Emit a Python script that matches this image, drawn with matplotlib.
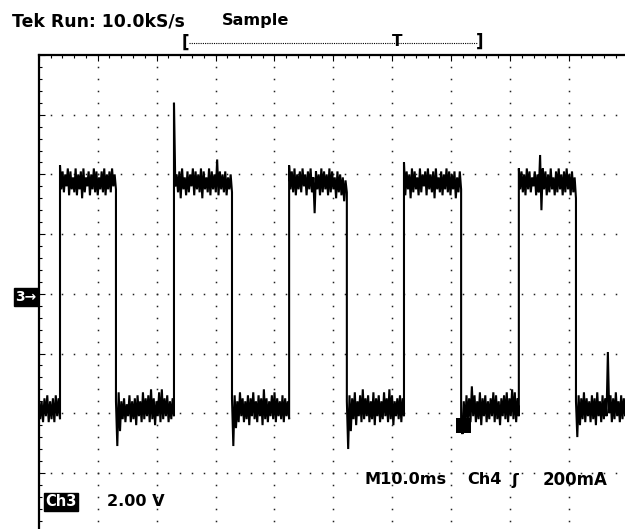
"""Tek scope capture: square wave on Ch3, 2.00 V/div, 10 ms/div."""

import numpy as np
import matplotlib

matplotlib.use("Agg")
import matplotlib.pyplot as plt
from matplotlib.lines import Line2D
from matplotlib.patches import Rectangle

OUTPUT_PNG = "out.png"
FIG_W, FIG_H = 625, 529

# edges of the square wave (ms from left of screen)
RISE_MS = [3.6, 22.95, 42.5, 62.0, 81.5]
FALL_MS = [13.1, 32.8, 52.3, 71.7, 91.2]

# noisy plateaus: upper and lower extent of the trace (V), read left to right
LOW_0_TOP = [-3.5, -3.6, -3.5, -3.4, -3.6, -3.5, -3.4, -3.5]
LOW_0_BOT = [-4.2, -4.3, -4.1, -4.3, -4.2, -4.3, -4.1, -4.2]

HIGH_1_TOP = [4.3, 4.1, 4.0, 4.2, 4.1, 3.9, 4.2, 4.0, 4.1, 4.2, 3.9, 4.1, 4.0,
              4.2, 4.1, 3.9, 4.1, 4.2, 4.0, 4.1, 4.2, 4.0]
HIGH_1_BOT = [3.5, 3.4, 3.6, 3.3, 3.5, 3.4, 3.3, 3.5, 3.2, 3.4, 3.6, 3.3, 3.5,
              3.4, 3.3, 3.5, 3.4, 3.3, 3.5, 3.4, 3.6, 3.5]

LOW_1_TOP = [-3.6, -3.3, -3.6, -3.5, -3.7, -3.4, -3.6, -3.5, -3.4, -3.6, -3.3,
             -3.5, -3.4, -3.2, -3.5, -3.6, -3.3, -3.2, -3.5, -3.4, -3.6, -3.5]
LOW_1_BOT = [-5.1, -4.6, -4.2, -4.3, -4.1, -4.3, -4.2, -4.4, -4.1, -4.3, -4.2,
             -4.1, -4.3, -4.2, -4.4, -4.1, -4.3, -4.2, -4.1, -4.3, -4.2, -4.1]

HIGH_2_TOP = [6.4, 4.0, 4.1, 4.2, 3.9, 4.1, 4.0, 4.2, 4.1, 4.0, 4.2, 4.1, 3.9,
              4.2, 4.1, 4.0, 4.5, 4.1, 4.0, 4.1, 3.9, 4.0]
HIGH_2_BOT = [3.6, 3.4, 3.2, 3.5, 3.3, 3.4, 3.6, 3.3, 3.5, 3.4, 3.2, 3.5, 3.4,
              3.3, 3.5, 3.4, 3.3, 3.5, 3.4, 3.3, 3.5, 3.4]

LOW_2_TOP = [-3.5, -3.4, -3.6, -3.3, -3.5, -3.6, -3.4, -3.5, -3.3, -3.6, -3.4,
             -3.5, -3.2, -3.5, -3.6, -3.4, -3.3, -3.5, -3.6, -3.4, -3.5, -3.6]
LOW_2_BOT = [-5.1, -4.5, -4.3, -4.1, -4.3, -4.2, -4.4, -4.1, -4.2, -4.3, -4.1,
             -4.4, -4.2, -4.3, -4.1, -4.2, -4.3, -4.1, -4.2, -4.3, -4.1, -4.2]

HIGH_3_TOP = [4.3, 4.1, 4.2, 4.0, 4.1, 4.2, 4.0, 4.1, 4.2, 3.9, 4.1, 4.0, 4.2,
              4.1, 4.0, 4.2, 4.1, 3.9, 4.1, 4.0, 3.9, 3.8]
HIGH_3_BOT = [3.5, 3.4, 3.3, 3.5, 3.4, 3.6, 3.3, 3.5, 3.4, 2.7, 3.5, 3.3, 3.4,
              3.5, 3.3, 3.4, 3.5, 3.2, 3.4, 3.3, 3.1, 3.4]

LOW_3_TOP = [-3.6, -3.4, -3.5, -3.3, -3.6, -3.4, -3.2, -3.5, -3.4, -3.6, -3.3,
             -3.5, -3.4, -3.6, -3.3, -3.5, -3.2, -3.4, -3.6, -3.5, -3.4, -3.5]
LOW_3_BOT = [-5.2, -4.6, -4.2, -4.4, -4.1, -4.3, -4.2, -4.1, -4.3, -4.2, -4.4,
             -4.1, -4.3, -4.2, -4.1, -4.3, -4.2, -4.4, -4.1, -4.2, -4.3, -4.1]

HIGH_4_TOP = [4.4, 4.1, 4.0, 4.2, 4.1, 3.9, 4.2, 4.0, 4.1, 4.2, 4.0, 4.1, 4.2,
              3.9, 4.1, 4.0, 4.2, 4.1, 4.0, 4.1, 3.9, 4.1]
HIGH_4_BOT = [3.3, 3.5, 3.2, 3.4, 3.5, 3.3, 3.4, 3.6, 3.3, 3.5, 3.4, 3.2, 3.5,
              3.4, 3.3, 3.5, 3.4, 3.3, 3.5, 3.2, 3.4, 3.5]

LOW_4_TOP = [-4.3, -3.6, -3.4, -3.5, -3.1, -3.4, -3.6, -3.3, -3.5, -3.4, -3.6,
             -3.5, -3.3, -3.4, -3.6, -3.5, -3.4, -3.3, -3.5, -3.2, -3.3, -3.5]
LOW_4_BOT = [-4.7, -4.5, -4.2, -4.3, -4.1, -4.3, -4.2, -4.4, -4.1, -4.3, -4.2,
             -4.1, -4.3, -4.2, -4.4, -4.1, -4.2, -4.3, -4.1, -4.2, -4.3, -4.1]

HIGH_5_TOP = [4.2, 4.1, 4.0, 4.2, 4.1, 3.9, 4.1, 4.0, 4.65, 4.2, 4.1, 4.0, 4.2,
              3.9, 4.1, 4.2, 4.0, 4.1, 4.2, 4.0, 4.1, 3.9]
HIGH_5_BOT = [3.5, 3.4, 3.3, 3.5, 3.4, 3.6, 3.3, 3.4, 2.8, 3.5, 3.3, 3.4, 3.5,
              3.3, 3.4, 3.5, 3.3, 3.4, 3.5, 3.3, 3.4, 3.2]

LOW_5_TOP = [-3.6, -3.4, -3.5, -3.3, -3.5, -3.6, -3.4, -3.5, -3.3, -3.6, -3.4,
             -3.5, -1.95, -3.4, -3.5, -3.3, -3.6, -3.4, -3.5, -3.6]
LOW_5_BOT = [-4.8, -4.4, -4.2, -4.3, -4.1, -4.3, -4.2, -4.4, -4.1, -4.3, -4.2,
             -4.1, -4.0, -4.3, -4.2, -4.1, -4.3, -4.2, -4.1, -4.3]

# solid blob on the trace just after the 4th falling edge
BLOB_MS = [70.8, 73.4]
BLOB_V = [-4.66, -4.16]

SEGMENTS = [
    (LOW_0_TOP, LOW_0_BOT), (HIGH_1_TOP, HIGH_1_BOT), (LOW_1_TOP, LOW_1_BOT),
    (HIGH_2_TOP, HIGH_2_BOT), (LOW_2_TOP, LOW_2_BOT), (HIGH_3_TOP, HIGH_3_BOT),
    (LOW_3_TOP, LOW_3_BOT), (HIGH_4_TOP, HIGH_4_BOT), (LOW_4_TOP, LOW_4_BOT),
    (HIGH_5_TOP, HIGH_5_BOT), (LOW_5_TOP, LOW_5_BOT),
]


def px(x, y):
    """pixel position -> figure fraction"""
    return x / FIG_W, 1 - y / FIG_H


def build_trace():
    bounds = [0.0] + sorted(RISE_MS + FALL_MS) + [100.0]
    t_parts, v_parts = [], []
    for t0, t1, (top, bot) in zip(bounds[:-1], bounds[1:], SEGMENTS):
        vals = np.column_stack([top, bot]).ravel()  # zig-zag top/bottom
        t_parts.append(np.linspace(t0, t1, len(vals)))
        v_parts.append(vals)
    return np.concatenate(t_parts), np.concatenate(v_parts)


def draw_graticule(ax):
    dot = dict(ls="none", marker="s", ms=1.1, mew=0, color="#222222")
    ys = np.arange(-8, 8.01, 0.4)
    for gx in range(10, 100, 10):
        ax.plot(np.full_like(ys, gx), ys, **dot)
    xs = np.arange(0, 100.1, 2)
    for gy in range(-6, 7, 2):
        ax.plot(xs, np.full_like(xs, gy), **dot)

    for side in ("bottom", "right"):
        ax.spines[side].set_visible(False)
    for side in ("top", "left"):
        ax.spines[side].set_linewidth(1.6)

    ax.set_xticks(np.arange(0, 101, 10))
    ax.set_xticks(np.arange(0, 101, 2), minor=True)
    ax.set_yticks(np.arange(-8, 9, 2))
    ax.set_yticks(np.arange(-8, 8.01, 0.4), minor=True)
    ax.tick_params(which="both", direction="in", top=True, bottom=False,
                   left=True, right=False, labeltop=False, labelbottom=False,
                   labelleft=False, width=0.8)
    ax.tick_params(which="major", length=4)
    ax.tick_params(which="minor", length=2.5)


def draw_labels(fig):
    bold = dict(fontweight="bold", color="black", va="center")
    fig.text(*px(12, 21), "Tek Run: 10.0kS/s", fontsize=12.4, ha="left", **bold)
    fig.text(*px(222, 21), "Sample", fontsize=11.6, ha="left", **bold)

    # trigger position bracket
    fig.text(*px(185, 43), "[", fontsize=12, ha="center", **bold)
    fig.text(*px(397, 41), "T", fontsize=11, ha="center", **bold)
    fig.text(*px(480, 42), "]", fontsize=12, ha="center", **bold)
    x0, y0 = px(189, 42.7)
    x1, _ = px(477, 42.7)
    fig.add_artist(Line2D([x0, x1], [y0, y0], color="black", lw=0.8,
                          ls=(0, (1, 1))))

    box = dict(boxstyle="square,pad=0.12", fc="black", ec="black")
    fig.text(*px(26, 297), "3\u2192", fontsize=10, ha="center", color="white",
             fontweight="bold", va="center", bbox=box)
    fig.text(*px(61, 502), "Ch3", fontsize=10.5, ha="center", color="white",
             fontweight="bold", va="center", bbox=box)
    fig.text(*px(107, 502), "2.00 V", fontsize=11.6, ha="left", **bold)

    fig.text(*px(365, 480), "M10.0ms", fontsize=11.6, ha="left", **bold)
    fig.text(*px(467, 480), "Ch4", fontsize=11.6, ha="left", **bold)
    fig.text(*px(515, 481), "\u0283", fontsize=11.6, ha="center", **bold)
    fig.text(*px(543, 480), "200mA", fontsize=12, ha="left", **bold)


def build_figure():
    fig = plt.figure(figsize=(FIG_W / 100, FIG_H / 100), dpi=100)
    fig.patch.set_facecolor("white")
    ax = fig.add_axes([38.8 / FIG_W, 1 - 532.6 / FIG_H, 589 / FIG_W,
                       477.6 / FIG_H])
    ax.set_xlim(0, 100)
    ax.set_ylim(-8, 8)
    draw_graticule(ax)

    t, v = build_trace()
    ax.plot(t, v, color="black", lw=1.5, solid_joinstyle="miter")
    ax.add_patch(Rectangle((BLOB_MS[0], BLOB_V[0]), BLOB_MS[1] - BLOB_MS[0],
                           BLOB_V[1] - BLOB_V[0], color="black", lw=0))

    draw_labels(fig)
    return fig


if __name__ == "__main__":
    fig = build_figure()
    fig.savefig(OUTPUT_PNG, dpi=100)
